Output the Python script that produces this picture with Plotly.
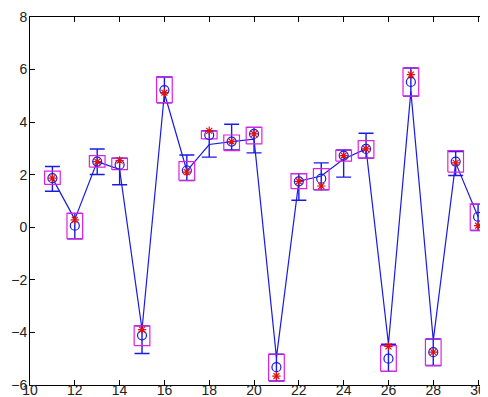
import numpy as np
import plotly.graph_objects as go

x = list(range(11, 31))
line_y = [1.87, 0.30, 2.50, 2.20, -3.89, 5.10, 2.15, 3.15, 3.26, 3.35,
          -4.95, 1.75, 1.95, 2.60, 2.98, -4.44, 5.17, -4.30, 2.45, 0.40]
err_top = [2.31, 0.53, 2.98, 2.63, -3.75, 5.72, 2.75, 3.67, 3.92, 3.80,
           -4.83, 2.04, 2.45, 2.94, 3.58, -4.45, 6.06, -4.25, 2.88, 0.88]
err_bot = [1.37, -0.44, 2.01, 1.62, -4.80, 4.74, 1.78, 2.67, 2.94, 2.83,
           -5.85, 1.03, 1.43, 1.91, 2.63, -5.48, 4.99, -5.26, 1.97, -0.12]
circle_y = [1.87, 0.06, 2.50, 2.38, -4.11, 5.22, 2.16, 3.51, 3.26, 3.55,
            -5.32, 1.75, 1.85, 2.73, 2.98, -5.00, 5.53, -4.75, 2.50, 0.40]
star_y = [1.87, 0.28, 2.50, 2.54, -3.89, 5.12, 2.10, 3.67, 3.26, 3.55,
          -5.66, 1.75, 1.57, 2.73, 2.98, -4.53, 5.81, -4.75, 2.45, 0.06]
rect_lo = [1.63, -0.44, 2.29, 2.19, -4.50, 4.74, 1.78, 3.36, 2.92, 3.17,
           -5.85, 1.47, 1.43, 2.52, 2.63, -5.48, 4.99, -5.26, 2.10, -0.12]
rect_hi = [2.14, 0.53, 2.73, 2.63, -3.75, 5.72, 2.50, 3.67, 3.51, 3.80,
           -4.83, 2.04, 2.23, 2.94, 3.30, -4.50, 6.06, -4.25, 2.92, 0.88]
x_ticks = list(range(10, 31, 2))
y_ticks = list(range(-6, 9, 2))

BLUE = "#1a1ae6"
RED = "#e01010"
MAGENTA = "#e020e0"
half_w = 0.35

ly = np.array(line_y)
fig = go.Figure()
fig.add_trace(go.Scatter(
    x=x, y=line_y, mode="lines",
    line=dict(color=BLUE, width=1.2),
    error_y=dict(type="data", symmetric=False,
                 array=list(np.array(err_top) - ly),
                 arrayminus=list(ly - np.array(err_bot)),
                 color=BLUE, thickness=1.4, width=7.5),
    hoverinfo="skip"))

# magenta rectangles
rx, ry = [], []
for xi, lo, hi in zip(x, rect_lo, rect_hi):
    rx += [xi - half_w, xi + half_w, xi + half_w, xi - half_w, xi - half_w, None]
    ry += [lo, lo, hi, hi, lo, None]
fig.add_trace(go.Scatter(x=rx, y=ry, mode="lines",
                         line=dict(color=MAGENTA, width=1.2), hoverinfo="skip"))

fig.add_trace(go.Scatter(x=x, y=circle_y, mode="markers",
                         marker=dict(symbol="circle-open", size=9, color=BLUE,
                                     line=dict(color=BLUE, width=1.2))))
fig.add_trace(go.Scatter(x=x, y=star_y, mode="markers",
                         marker=dict(symbol="asterisk-open", size=7, color=RED,
                                     line=dict(color=RED, width=1.2))))

axis_common = dict(showgrid=False, zeroline=False, showline=True, linecolor="black",
                   linewidth=1, mirror="ticks", ticks="inside", ticklen=5,
                   tickcolor="black", ticklabeloverflow="allow",
                   tickfont=dict(family="Liberation Sans, Arial", size=14, color="#222"))
fig.update_xaxes(range=[10, 30.8], tickvals=x_ticks, ticklabelstandoff=-8, **axis_common)
fig.update_yaxes(range=[-6, 8], tickvals=y_ticks, ticklabelstandoff=-1, **axis_common)
fig.update_layout(width=488, height=397, showlegend=False,
                  margin=dict(l=22, r=0, t=9, b=20),
                  paper_bgcolor="white", plot_bgcolor="white")
fig.write_html("out.html")
